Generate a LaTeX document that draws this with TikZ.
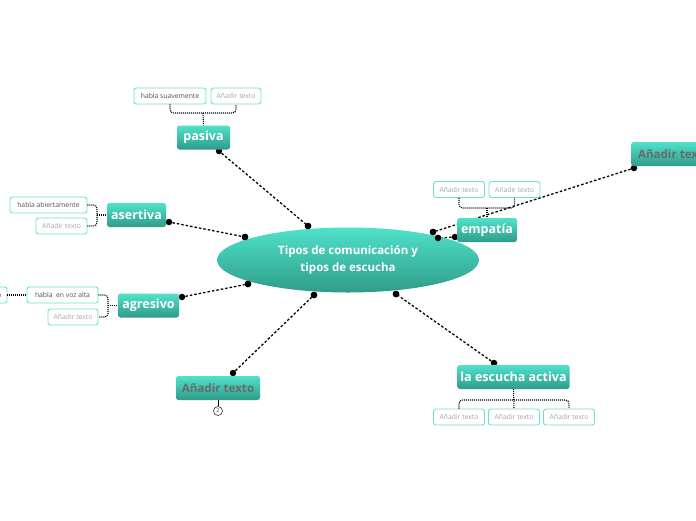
\documentclass[tikz,border=0pt]{standalone}
\usepackage{fontspec}
\setmainfont{Open Sans}
\usetikzlibrary{shapes.geometric}
\definecolor{ttop}{HTML}{50E2CA}
\definecolor{tbot}{HTML}{2E9C89}
\definecolor{tline}{HTML}{6BE3CF}
\definecolor{dgray}{HTML}{505050}
\definecolor{lgray}{HTML}{A5A5A5}
\definecolor{mgray}{HTML}{6A6A6A}
\tikzset{
  mainbox/.style={rectangle, rounded corners=2.5pt, top color=ttop, bottom color=tbot, draw=none, text=white,
    font=\bfseries\fontsize{12.5}{14}\selectfont, inner sep=0pt, minimum height=24pt},
  graybox/.style={mainbox, text=mgray, font=\bfseries\fontsize{11.6}{14}\selectfont},
  leaf/.style={rectangle, rounded corners=2.5pt, draw=tline, line width=0.9pt, fill=white,
    font=\fontsize{6.8}{8}\selectfont, text=dgray, minimum height=16pt, inner sep=0pt},
  leafph/.style={leaf, text=lgray},
  conn/.style={line width=1.3pt, dash pattern=on 2.5pt off 2pt},
  brk/.style={line width=1.1pt, dash pattern=on 1pt off 1pt, rounded corners=3.5pt},
  dot/.style={circle, fill=black, inner sep=0pt, minimum size=6.5pt},
}
\begin{document}
\begin{tikzpicture}[x=1pt,y=-1pt]
\clip (0,0) rectangle (696,520);
\fill[white] (0,0) rectangle (696,520);

% connectors (drawn first)
\node[dot] (d1a) at (219,151) {};
\node[dot] (d1b) at (308,226) {};
\node[dot] (d2a) at (169,222) {};
\node[dot] (d2b) at (245,237) {};
\node[dot] (d3a) at (182,297) {};
\node[dot] (d3b) at (248,284) {};
\node[dot] (d4a) at (455,237) {};
\node[dot] (d4b) at (438,238) {};
\node[dot] (d5a) at (634,168) {};
\node[dot] (d5b) at (433,232) {};
\node[dot] (d6a) at (233,373) {};
\node[dot] (d6b) at (314,295) {};
\node[dot] (d7a) at (494,363) {};
\node[dot] (d7b) at (396,294) {};
\draw[conn] (d1a) -- (d1b);
\draw[conn] (d2a) -- (d2b);
\draw[conn] (d3a) -- (d3b);
\draw[conn] (d4a) -- (d4b);
\draw[conn] (d5a) -- (d5b);
\draw[conn] (d6a) -- (d6b);
\draw[conn] (d7a) -- (d7b);

% central topic
\node[ellipse, top color=ttop, bottom color=tbot, minimum width=262pt, minimum height=65pt, inner sep=0pt,
  text=white, align=center, font=\bfseries\fontsize{11.5}{17}\selectfont] (c) at (348,260)
  {Tipos de comunicación y\\tipos de escucha};
% redraw dots on top of the ellipse
\foreach \d in {d1b,d2b,d3b,d4b,d5b,d6b,d7b} \fill (\d) circle (3.25pt);

% pasiva
\node[mainbox, minimum width=53pt] (pas) at (203.5,137.5) {pasiva};
\node[leaf, minimum width=72pt] (p1) at (170,96) {habla suavemente};
\node[leafph, minimum width=50pt] (p2) at (236,96) {Añadir texto};
\coordinate (pj) at (203,113);
\draw[brk] (p1.south) |- (pj) -| (p2.south);
\draw[brk] (pj) -- (pas.north);

% asertiva
\node[mainbox, minimum width=59pt] (ase) at (136.5,215) {asertiva};
\node[leaf, minimum width=77pt] (a1) at (48.5,205) {habla abiertamente};
\node[leafph, minimum width=51pt] (a2) at (61.5,226) {Añadir texto};
\coordinate (aj) at (97,215);
\draw[brk] (a1.east) -| (aj) |- (a2.east);
\draw[brk] (aj) -- (ase.west);

% agresivo
\node[mainbox, minimum width=61pt] (agr) at (148.5,305.5) {agresivo};
\node[leaf, minimum width=71pt] (g1) at (62.5,295) {habla \ en voz alta};
\node[leaf, minimum width=50pt] (g0) at (-18,295) {Añadir texto};
\node[leafph, minimum width=50pt] (g2) at (73,317) {Añadir texto};
\coordinate (gj) at (108,305.5);
\draw[brk] (g1.east) -| (gj) |- (g2.east);
\draw[brk] (gj) -- (agr.west);
\draw[brk] (g0.east) -- (g1.west);

% empatia
\node[mainbox, minimum width=60pt] (emp) at (487,230) {empatía};
\node[leafph, minimum width=51pt] (e1) at (459,189.5) {Añadir texto};
\node[leafph, minimum width=51pt] (e2) at (514.5,189.5) {Añadir texto};
\coordinate (ej) at (487,208);
\draw[brk] (e1.south) |- (ej) -| (e2.south);
\draw[brk] (ej) -- (emp.north);

% top right
\node[graybox, minimum width=86pt, anchor=west] (tr) at (631,154) {Añadir texto};

% bottom left
\node[graybox, minimum width=84pt] (bl) at (218,388) {Añadir texto};
\node[circle, draw=black!80, line width=0.6pt, inner sep=0pt, minimum size=9pt,
  font=\fontsize{5.5}{6}\selectfont, text=dgray] (n2) at (218,411) {2};
\draw[line width=0.8pt] (bl.south) -- (n2.north);

% la escucha activa
\node[mainbox, minimum width=112pt] (esc) at (513.5,377) {la escucha activa};
\node[leafph, minimum width=51pt] (s1) at (459,417) {Añadir texto};
\node[leafph, minimum width=51pt] (s2) at (514,417) {Añadir texto};
\node[leafph, minimum width=51pt] (s3) at (569,417) {Añadir texto};
\coordinate (sj) at (514.5,400);
\draw[brk] (s1.north) |- (sj) -| (s3.north);
\draw[brk] (esc.south) -- (s2.north);
\end{tikzpicture}
\end{document}
